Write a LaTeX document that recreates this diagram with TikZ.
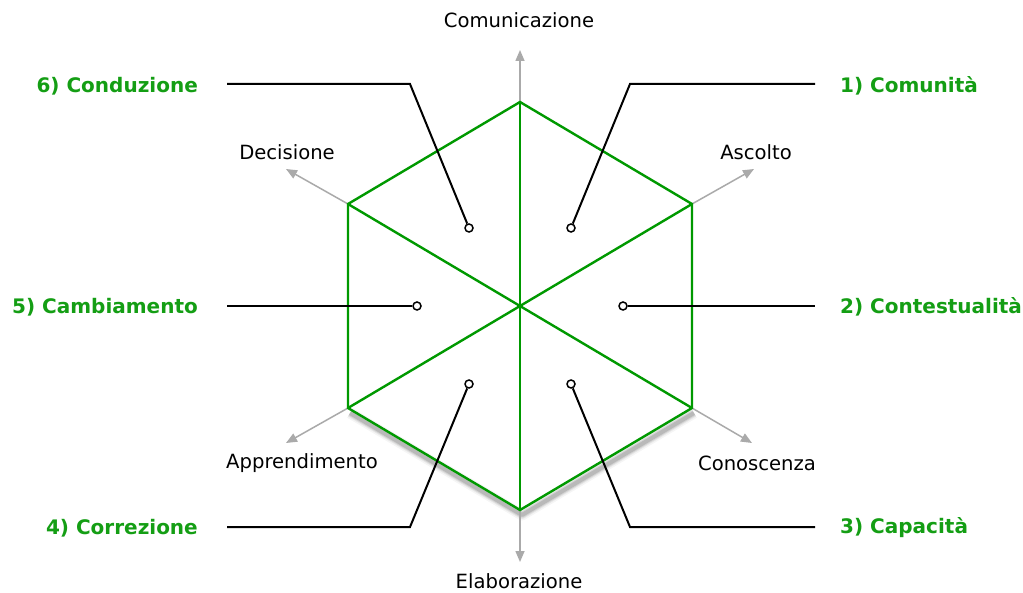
\documentclass[tikz,border=0pt]{standalone}
\usepackage{fontspec}
\setmainfont{DejaVu Sans}
\usetikzlibrary{arrows.meta}
\definecolor{hexgreen}{RGB}{0,153,0}
\definecolor{txtgreen}{RGB}{20,158,20}
\definecolor{axisgray}{RGB}{170,170,170}
\begin{document}
\begin{tikzpicture}[x=1pt,y=-1pt,
  hexline/.style={draw=hexgreen,line width=2.4pt,line join=miter},
  axis/.style={draw=axisgray,line width=1.5pt,-{Triangle[length=11pt,width=9pt]}},
  axislabel/.style={font=\fontsize{19.6}{22}\selectfont,text=black,inner sep=0pt},
  numlabel/.style={font=\bfseries\fontsize{20}{23}\selectfont,text=txtgreen,inner sep=0pt},
  leader/.style={draw=black,line width=2pt},
  endpt/.style={circle,draw=black,fill=white,line width=1.5pt,minimum size=8pt,inner sep=0pt}]
\useasboundingbox (0,0) rectangle (1023,593);
\fill[white] (0,0) rectangle (1023,593);
% vertices
\coordinate (C) at (520,306);
\coordinate (T) at (520,102);
\coordinate (B) at (520,510);
\coordinate (UR) at (692,204);
\coordinate (LR) at (692,408);
\coordinate (UL) at (348,204);
\coordinate (LL) at (348,408);
% shadow
\foreach \w/\o in {11/0.04,8/0.06,6/0.08,4/0.12}{
  \draw[line width=\w pt,draw=black,opacity=\o,line join=round] ([shift={(2,5)}]LL) -- ([shift={(2,5)}]B) -- ([shift={(2,5)}]LR);
}
% axes
\coordinate (aT) at (520,50);
\coordinate (aB) at (520,562);
\coordinate (aUR) at (754,169);
\coordinate (aUL) at (286,169);
\coordinate (aLL) at (286,443);
\coordinate (aLR) at (752,443);
\draw[axis] (T) -- (aT);
\draw[axis] (B) -- (aB);
\draw[axis] (UR) -- (aUR);
\draw[axis] (UL) -- (aUL);
\draw[axis] (LL) -- (aLL);
\draw[axis] (LR) -- (aLR);
% hexagon
\draw[hexline] (T) -- (UR) -- (LR) -- (B) -- (LL) -- (UL) -- cycle;
\draw[hexline] (T) -- (B);
\draw[hexline] (UL) -- (LR);
\draw[hexline] (UR) -- (LL);
% axis labels
\node[axislabel] (lT) at (519,20) {Comunicazione};
\node[axislabel] (lB) at (519,581) {Elaborazione};
\node[axislabel] (lUR) at (756,152) {Ascolto};
\node[axislabel] (lUL) at (287,152) {Decisione};
\node[axislabel] (lLL) at (302,463) {Apprendimento};
\node[axislabel] (lLR) at (757,463) {Conoscenza};
% numbered labels
\node[numlabel,anchor=west] (n1) at (840,86) {1) Comunità};
\node[numlabel,anchor=west] (n2) at (840,307) {2) Contestualità};
\node[numlabel,anchor=west] (n3) at (840,528) {3) Capacità};
\node[numlabel,anchor=east] (n4) at (198,528) {4) Correzione};
\node[numlabel,anchor=east] (n5) at (198,307) {5) Cambiamento};
\node[numlabel,anchor=east] (n6) at (198,86) {6) Conduzione};
% leader ends
\node[endpt] (e1) at (571,228) {};
\node[endpt] (e2) at (623,306) {};
\node[endpt] (e3) at (571,384) {};
\node[endpt] (e4) at (469,384) {};
\node[endpt] (e5) at (417,306) {};
\node[endpt] (e6) at (469,228) {};
\coordinate (k1) at (630,84);
\coordinate (k3) at (630,527);
\coordinate (k4) at (410,527);
\coordinate (k6) at (410,84);
\coordinate (r1) at (815,84);
\coordinate (r2) at (815,306);
\coordinate (r3) at (815,527);
\coordinate (r4) at (227,527);
\coordinate (r5) at (227,306);
\coordinate (r6) at (227,84);
\draw[leader] (e1) -- (k1) -- (r1);
\draw[leader] (e2) -- (r2);
\draw[leader] (e3) -- (k3) -- (r3);
\draw[leader] (e4) -- (k4) -- (r4);
\draw[leader] (e5) -- (r5);
\draw[leader] (e6) -- (k6) -- (r6);
\end{tikzpicture}
\end{document}
